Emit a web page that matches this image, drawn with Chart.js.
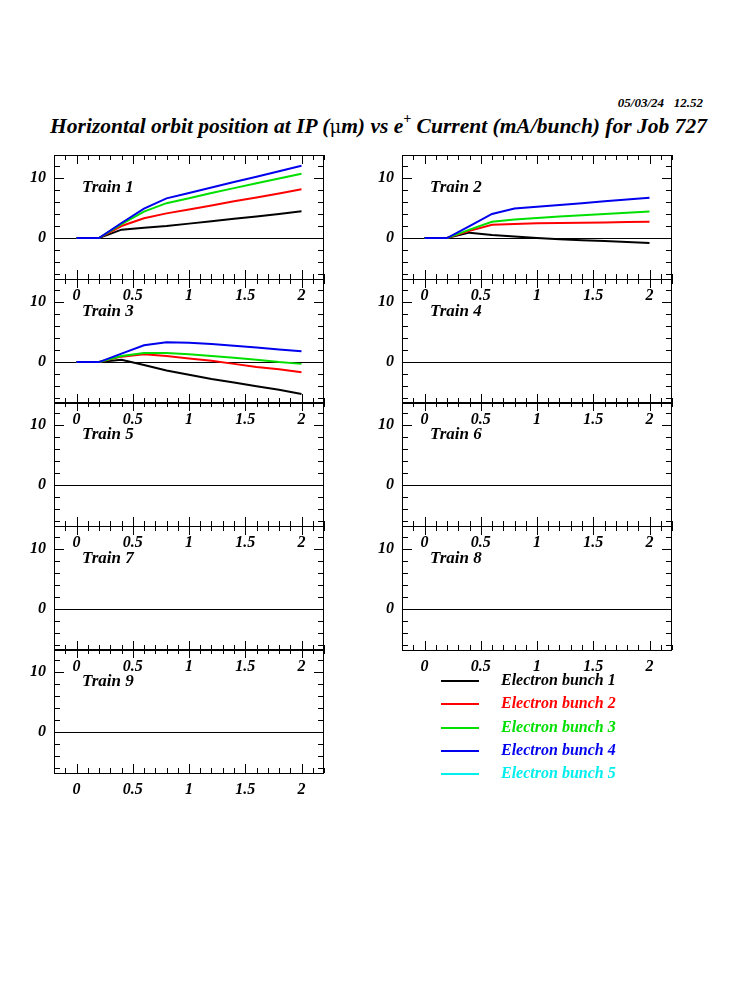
<!DOCTYPE html>
<html>
<head>
<meta charset="utf-8">
<script src="https://cdn.jsdelivr.net/npm/chart.js@4/dist/chart.umd.min.js"></script>
<style>
  body { margin: 0; background: #fff; }
  #page { position: relative; width: 750px; height: 1000px; overflow: hidden;
          font-family: 'Liberation Serif', 'Times New Roman', serif; font-weight: bold; font-style: italic; color: #000; }
  #stamp { position: absolute; right: 47px; top: 95px; font-size: 13px; white-space: pre; }
  #title { position: absolute; left: 0; width: 757px; top: 113px; text-align: center; font-size: 21.5px; white-space: nowrap; }
  #title sup { font-size: 14px; position: relative; top: -2px; }
  #title .mu { font-family: 'DejaVu Serif', serif; font-style: normal; font-weight: normal; font-size: 18px; }
  canvas { position: absolute; }
  .train { position: absolute; font-size: 17px; white-space: nowrap; }
  .legend-line { position: absolute; height: 2px; width: 38px; }
  .legend-text { position: absolute; font-size: 16px; white-space: nowrap; }
</style>
</head>
<body>
<div id="page">
  <div id="stamp">05/03/24   12.52</div>
  <div id="title">Horizontal orbit position at IP (<span class="mu">μ</span>m) vs e<sup>+</sup> Current (mA/bunch) for Job 727</div>
</div>
<script>
// e+ current per bunch (mA) and orbit position (um) per train / electron bunch
const currents = [0, 0.2, 0.4, 0.6, 0.8, 1.0, 1.2, 1.4, 1.6, 1.8, 2.0];

const train1Bunch1 = [0, 0, 1.4, 1.7, 2.0, 2.4, 2.8, 3.2, 3.6, 4.0, 4.45];
const train1Bunch2 = [0, 0, 2.0, 3.3, 4.1, 4.75, 5.4, 6.1, 6.75, 7.4, 8.1];
const train1Bunch3 = [0, 0, 2.3, 4.4, 5.8, 6.6, 7.5, 8.3, 9.1, 9.9, 10.7];
const train1Bunch4 = [0, 0, 2.5, 4.9, 6.6, 7.5, 8.4, 9.3, 10.2, 11.1, 12.0];

const train2Bunch1 = [0, 0, 0.9, 0.5, 0.25, 0.0, -0.2, -0.35, -0.5, -0.65, -0.8];
const train2Bunch2 = [0, 0, 1.2, 2.2, 2.35, 2.45, 2.5, 2.55, 2.6, 2.65, 2.7];
const train2Bunch3 = [0, 0, 1.4, 2.7, 3.1, 3.35, 3.6, 3.8, 4.0, 4.2, 4.4];
const train2Bunch4 = [0, 0, 2.0, 4.0, 4.9, 5.2, 5.5, 5.8, 6.1, 6.4, 6.7];

const train3Bunch1 = [0, 0, 0.4, -0.5, -1.4, -2.1, -2.8, -3.4, -4.0, -4.6, -5.3];
const train3Bunch2 = [0, 0, 0.9, 1.3, 1.0, 0.6, 0.2, -0.3, -0.8, -1.2, -1.7];
const train3Bunch3 = [0, 0, 1.0, 1.5, 1.5, 1.3, 1.0, 0.7, 0.4, 0.0, -0.3];
const train3Bunch4 = [0, 0, 1.4, 2.8, 3.3, 3.2, 3.0, 2.7, 2.4, 2.1, 1.8];

const trainNames = ['Train 1', 'Train 2', 'Train 3', 'Train 4', 'Train 5',
                    'Train 6', 'Train 7', 'Train 8', 'Train 9'];
const bunchLabels = ['Electron bunch 1', 'Electron bunch 2', 'Electron bunch 3',
                     'Electron bunch 4', 'Electron bunch 5'];
const bunchColors = ['#000000', '#ff0000', '#00e000', '#0000ee', '#00eeee'];

const xTickLabels = [0, 0.5, 1, 1.5, 2];
const yTickLabels = [0, 10];

// only trains 1-3 have measurements, the rest are empty
const trainSeries = [
  [train1Bunch1, train1Bunch2, train1Bunch3, train1Bunch4, []],
  [train2Bunch1, train2Bunch2, train2Bunch3, train2Bunch4, []],
  [train3Bunch1, train3Bunch2, train3Bunch3, train3Bunch4, []],
];

const FONT = { family: "'Liberation Serif', 'Times New Roman', serif", size: 16, style: 'italic', weight: 'bold' };
const colLeft = [54, 402];
const rowTop = [155, 279, 402, 526, 649];
const PANEL_W = 270;
const PANEL_H = 124;
const PAD = 8;
const AXIS_W = 54;
const AXIS_H = 34;

function noScalePadding(scale) {
  scale.paddingLeft = 0;
  scale.paddingRight = 0;
  scale.paddingTop = 0;
  scale.paddingBottom = 0;
}

const frameTicks = {
  id: 'frameTicks',
  beforeDatasetsDraw(chart) {
    const { ctx, chartArea: a, scales: { y } } = chart;
    const py = Math.round(y.getPixelForValue(0)) + 0.5;
    ctx.save();
    ctx.strokeStyle = '#000';
    ctx.lineWidth = 1;
    ctx.beginPath();
    ctx.moveTo(a.left, py);
    ctx.lineTo(a.right, py);
    ctx.stroke();
    ctx.restore();
  },
  afterDraw(chart) {
    const { ctx, chartArea: a, scales: { x, y } } = chart;
    ctx.save();
    ctx.strokeStyle = '#000';
    ctx.lineWidth = 1;
    ctx.beginPath();
    x.ticks.forEach(t => {
      const px = Math.round(x.getPixelForValue(t.value)) + 0.5;
      const len = xTickLabels.includes(t.value) ? 9 : 5;
      ctx.moveTo(px, a.top);
      ctx.lineTo(px, a.top + len);
      ctx.moveTo(px, a.bottom);
      ctx.lineTo(px, a.bottom - len);
    });
    y.ticks.forEach(t => {
      const py = Math.round(y.getPixelForValue(t.value)) + 0.5;
      const len = yTickLabels.includes(t.value) ? 10 : 6;
      ctx.moveTo(a.left, py);
      ctx.lineTo(a.left + len, py);
      ctx.moveTo(a.right, py);
      ctx.lineTo(a.right - len, py);
    });
    ctx.stroke();
    ctx.strokeRect(Math.round(a.left) + 0.5, Math.round(a.top) + 0.5,
                   Math.round(a.right - a.left) - 1, Math.round(a.bottom - a.top));
    ctx.restore();
  }
};

function makePanel(index) {
  const page = document.getElementById('page');
  const col = index % 2;
  const row = Math.floor(index / 2);
  const left = colLeft[col];
  const top = rowTop[row];

  const canvas = document.createElement('canvas');
  canvas.width = AXIS_W + PANEL_W + PAD;
  canvas.height = PAD + PANEL_H + AXIS_H;
  canvas.style.left = (left - AXIS_W) + 'px';
  canvas.style.top = (top - PAD) + 'px';
  page.appendChild(canvas);

  const label = document.createElement('div');
  label.className = 'train';
  label.textContent = trainNames[index];
  label.style.left = (left + 28) + 'px';
  label.style.top = (top + 22) + 'px';
  page.appendChild(label);

  const series = trainSeries[index] || [];
  const datasets = bunchLabels.map((name, b) => ({
    label: name,
    data: (series[b] || []).map((v, i) => ({ x: currents[i], y: v })),
    borderColor: bunchColors[b],
    borderWidth: 2,
    pointRadius: 0,
    tension: 0,
    order: bunchLabels.length - b,
  }));

  new Chart(canvas, {
    type: 'line',
    data: { datasets },
    options: {
      responsive: false,
      animation: false,
      layout: { padding: { left: 0, top: PAD, right: PAD, bottom: 0 } },
      plugins: { legend: { display: false }, tooltip: { enabled: false } },
      scales: {
        x: {
          type: 'linear',
          min: -0.2,
          max: 2.2,
          grid: { display: false, drawTicks: false },
          border: { display: false },
          afterBuildTicks(scale) {
            const ticks = [];
            for (let i = -2; i <= 22; i++) ticks.push({ value: i / 10 });
            scale.ticks = ticks;
          },
          afterFit(scale) { scale.height = AXIS_H; noScalePadding(scale); },
          ticks: {
            autoSkip: false,
            maxRotation: 0,
            padding: 7,
            color: '#000',
            font: FONT,
            callback: v => xTickLabels.includes(v) ? String(v) : '',
          },
        },
        y: {
          type: 'linear',
          min: -6.8,
          max: 13.8,
          grid: { display: false, drawTicks: false },
          border: { display: false },
          afterBuildTicks(scale) {
            const ticks = [];
            for (let v = -6; v <= 12; v += 2) ticks.push({ value: v });
            scale.ticks = ticks;
          },
          afterFit(scale) { scale.width = AXIS_W; noScalePadding(scale); },
          ticks: {
            autoSkip: false,
            padding: 8,
            color: '#000',
            font: FONT,
            callback: v => yTickLabels.includes(v) ? String(v) : '',
          },
        },
      },
    },
    plugins: [frameTicks],
  });
}

function makeLegend() {
  const page = document.getElementById('page');
  bunchLabels.forEach((name, b) => {
    const cy = 681 + b * 23.3;
    const line = document.createElement('div');
    line.className = 'legend-line';
    line.style.left = '441px';
    line.style.top = (cy - 1) + 'px';
    line.style.background = bunchColors[b];
    page.appendChild(line);
    const text = document.createElement('div');
    text.className = 'legend-text';
    text.textContent = name;
    text.style.left = '501px';
    text.style.top = (cy - 10) + 'px';
    text.style.color = bunchColors[b];
    page.appendChild(text);
  });
}

trainNames.forEach((_, i) => makePanel(i));
makeLegend();
</script>
</body>
</html>
